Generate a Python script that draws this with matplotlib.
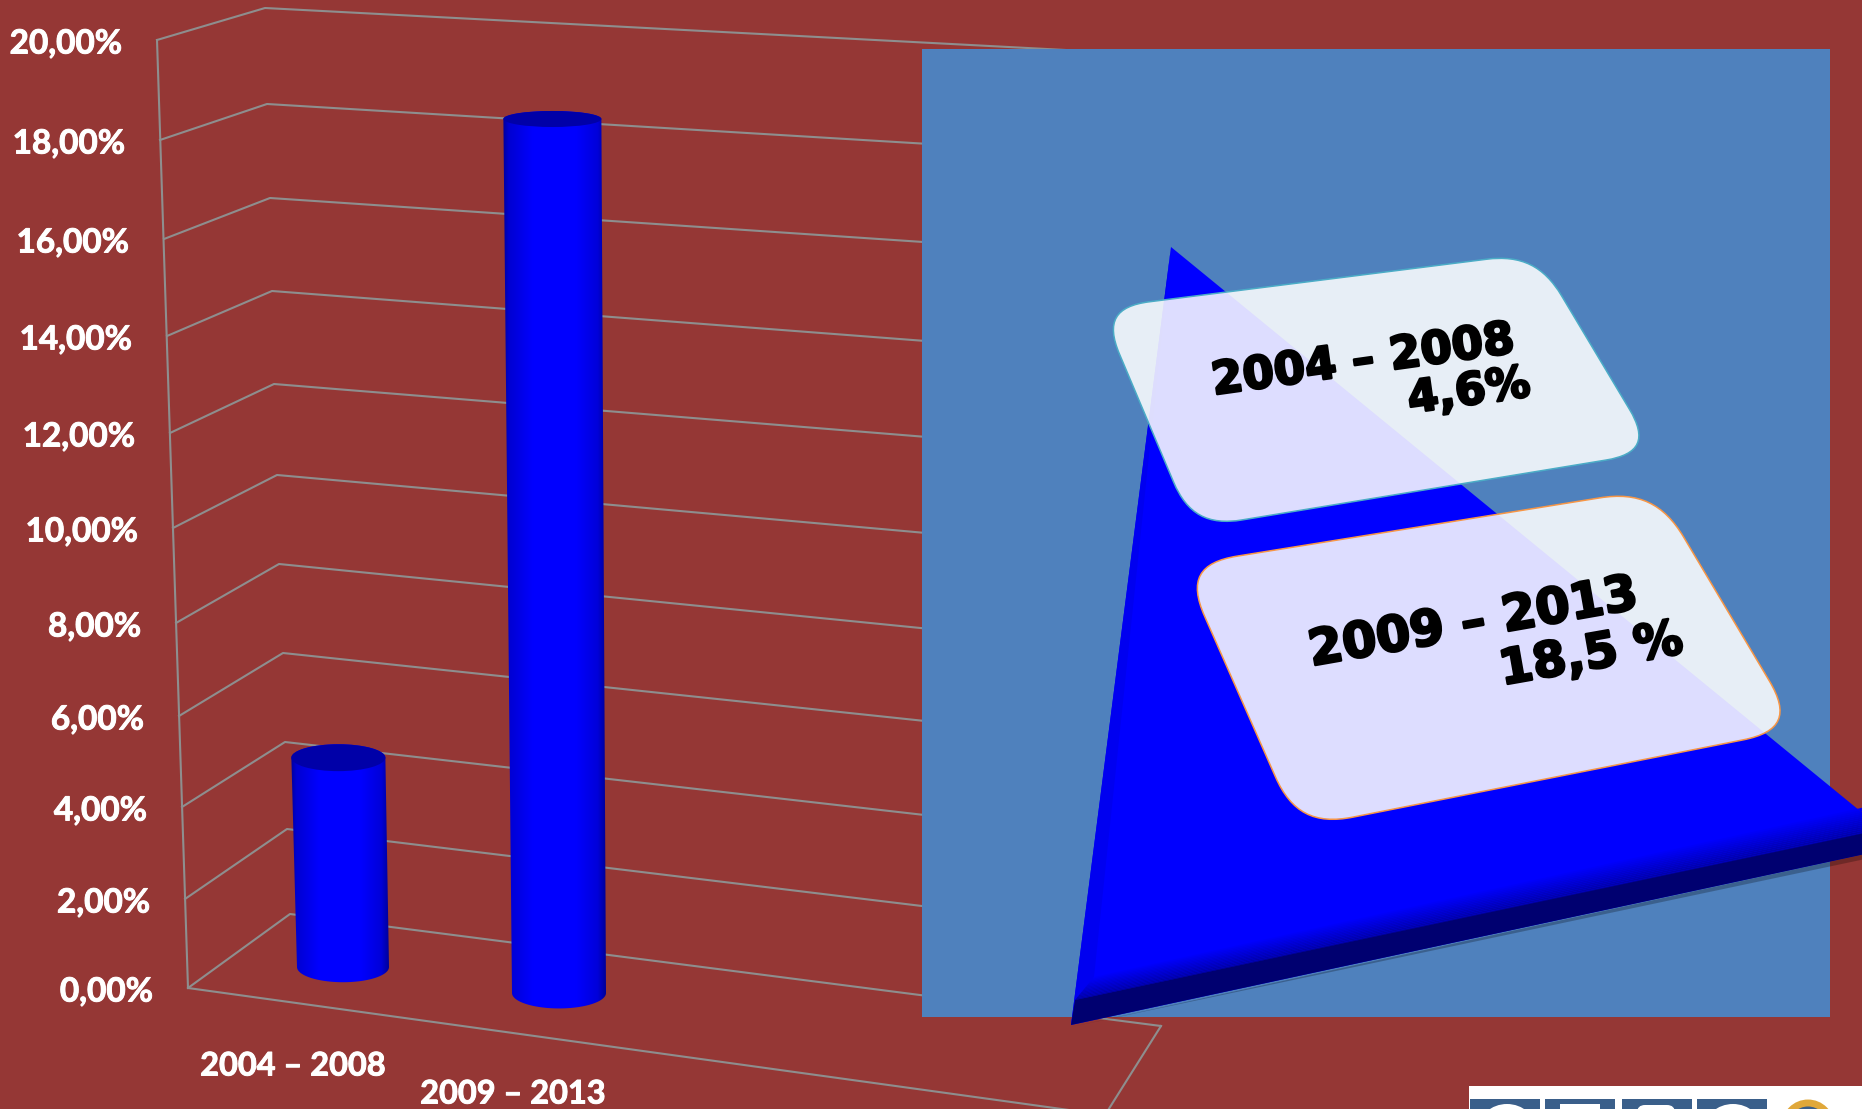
import numpy as np
import matplotlib
matplotlib.use('Agg')
import matplotlib.pyplot as plt
from matplotlib.colors import LinearSegmentedColormap
from matplotlib.patches import Circle, Ellipse, FancyBboxPatch, PathPatch, Polygon, Rectangle
from matplotlib.path import Path
import matplotlib.patheffects as pe

# datos
periodos = ['2004 – 2008', '2009 – 2013']
valores = [4.6, 18.5]
ticks = [0, 2, 4, 6, 8, 10, 12, 14, 16, 18, 20]
etiquetas = ['0,00%', '2,00%', '4,00%', '6,00%', '8,00%', '10,00%',
             '12,00%', '14,00%', '16,00%', '18,00%', '20,00%']
tarjetas = [('2004 – 2008', '4,6%'), ('2009 – 2013', '18,5 %')]

# escala del grafico 3D, en pixeles, de 0% a 20%
frente_x = [188, 185, 182, 179, 176, 173, 170, 167, 164, 160, 157]
frente_y = [988, 899, 807, 716, 623, 528, 433, 336, 239, 140, 40]
fondo_x = [290, 287, 285, 283, 279, 277, 274, 272, 270, 267, 265]
fondo_y = [914, 829, 742, 653, 564, 475, 384, 291, 198, 104, 8]
fin_y = [1026, 935, 842, 746, 652, 554, 456, 359, 258, 158, 55]
FIN_X = 1161

FONDO = '#953735'
GRIS = '#8E8E8E'
AZUL_CAJA = '#4F81BD'
AZUL_LOGO = '#3A5F8A'


def escala(v):
    return np.interp(v, ticks, frente_y)


def redondeado(p, r):
    # cuadrilatero con esquinas redondeadas
    p = [np.array(q, float) for q in p]
    verts, codes = [], []
    for i in range(4):
        a, b, c = p[i - 1], p[i], p[(i + 1) % 4]
        ini = b + (a - b) * r / np.linalg.norm(a - b)
        fin = b + (c - b) * r / np.linalg.norm(c - b)
        verts += [ini, ini + (b - ini) * .7, fin + (b - fin) * .7, fin]
        codes += [Path.LINETO if i else Path.MOVETO, Path.CURVE4, Path.CURVE4, Path.CURVE4]
    verts.append(verts[0])
    codes.append(Path.CLOSEPOLY)
    return Path(verts, codes)


fig = plt.figure(figsize=(18.62, 11.09), dpi=100, facecolor=FONDO)
ax = fig.add_axes([0, 0, 1, 1])
ax.set_facecolor(FONDO)

etiq = dict(color='white', fontweight='bold', family='Lato', zorder=6,
            path_effects=[pe.withStroke(linewidth=0.7, foreground='white')])

# paredes y rejilla
for i in range(len(ticks)):
    ax.plot([frente_x[i], fondo_x[i], FIN_X], [frente_y[i], fondo_y[i], fin_y[i]],
            color=GRIS, lw=1.5, zorder=1)
    ax.text(frente_x[i] - 35, frente_y[i] + 4, etiquetas[i], ha='right', va='center', fontsize=24, **etiq)
ax.plot([frente_x[0], frente_x[-1]], [frente_y[0], frente_y[-1]], color=GRIS, lw=1.5, zorder=1)
ax.plot([frente_x[0], 1105, FIN_X], [frente_y[0], 1115, fin_y[0]], color=GRIS, lw=1.5, zorder=1)

# cilindros
cmap_cil = LinearSegmentedColormap.from_list('cil', [(0, (0, 0, .5)), (.08, (0, 0, .82)), (.3, (0, 0, 1)),
                                                     (.7, (0, 0, 1)), (.9, (0, 0, .85)), (1, (0, 0, .5))])
gradiente = np.linspace(0, 1, 256).reshape(1, -1)
base = [(343, 967, 92, 94), (559, 993, 94, 98)]
for v, (cx, by, ancho, ancho_top) in zip(valores, base):
    ty = by + escala(v) - escala(0) - 1
    cx_top = cx - 4 - 0.3 * (by - ty) / 100
    ry_abajo = 7 + 0.0085 * by
    ry_top = 7 + 0.0085 * ty
    th = np.linspace(0, np.pi, 60)
    abajo = np.column_stack([cx + ancho / 2 * np.cos(th), by + ry_abajo * np.sin(th)])
    th2 = np.linspace(np.pi, 2 * np.pi, 60)
    arriba = np.column_stack([cx_top + ancho_top / 2 * np.cos(th2), ty + ry_top * np.sin(th2)])
    silueta = Polygon(np.vstack([abajo, arriba]), closed=True, transform=ax.transData,
                      facecolor='none', edgecolor='none')
    ax.add_patch(silueta)
    im = ax.imshow(gradiente, cmap=cmap_cil, aspect='auto', zorder=3,
                   extent=[cx_top - ancho_top / 2 - 3, cx + ancho / 2 + 3, by + ry_abajo + 2, ty - ry_top - 2])
    im.set_clip_path(silueta)
    ax.add_patch(Ellipse((cx_top, ty), ancho_top, ry_top * 2, facecolor='#0000A8', edgecolor='none', zorder=4))

# caja azul con el triangulo
ax.add_patch(Rectangle((922, 49), 908, 968, facecolor=AZUL_CAJA, edgecolor='none', zorder=5))
ax.add_patch(Polygon([(1071, 1027), (1870, 853), (1870, 858)], facecolor='black', alpha=.25, edgecolor='none', zorder=6))
ax.add_patch(Polygon([(1171, 247), (1071, 1025), (1920, 842), (1920, 860)], closed=True,
                     facecolor='#0000FF', edgecolor='none', zorder=7))
# bisel
ax.add_patch(Polygon([(1171, 247), (1071, 1025), (1094, 977)], facecolor='#0000F0', edgecolor='none', zorder=7))
n = 14
for j in range(n):
    t0, t1 = j / n, (j + 1) / n
    izq0, izq1 = 977 + 23 * t0, 977 + 23 * t1
    der0, der1 = 806 + 27 * t0, 806 + 27 * t1
    xi0, xi1 = 1094 - 19 * t0, 1094 - 19 * t1
    ax.add_patch(Polygon([(xi0, izq0), (1870, der0), (1870, der1), (xi1, izq1)],
                         facecolor=(0, 0, 1 - .35 * t1), edgecolor='none', zorder=7, lw=0))
ax.add_patch(Polygon([(1075, 1000), (1870, 832), (1870, 853), (1071, 1025)],
                     facecolor='#000070', edgecolor='none', zorder=7))

# tarjetas
esq1 = [(1100, 308), (1536, 253), (1655, 452), (1193, 528)]
esq2 = [(1182, 565), (1655, 489), (1798, 729), (1298, 828)]
for esq, borde, r in zip([esq1, esq2], ['#4BACC6', '#F79646'], [50, 56]):
    ax.add_patch(PathPatch(redondeado(esq, r), facecolor=(1, 1, 1, .87), edgecolor=borde, lw=1.1, zorder=8))

fuente = dict(color='black', ha='center', va='center', family='DejaVu Sans', fontweight='bold', zorder=9,
              rotation_mode='anchor', path_effects=[pe.withStroke(linewidth=1.8, foreground='black')])
ax.text(1363, 361, tarjetas[0][0], fontsize=32.5, rotation=8, **fuente)
ax.text(1469, 392, tarjetas[0][1], fontsize=32, rotation=8, **fuente)
ax.text(1473, 623, tarjetas[1][0], fontsize=35.5, rotation=10, **fuente)
ax.text(1591, 655, tarjetas[1][1], fontsize=35, rotation=10, **fuente)

# categorias
ax.text(293, 1066, periodos[0], ha='center', va='center', fontsize=23.4, **etiq)
ax.text(513, 1094, periodos[1], ha='center', va='center', fontsize=23.4, **etiq)

# logo cortado abajo a la derecha: solo se ve la parte de arriba de las letras
ax.add_patch(Rectangle((1469, 1086), 400, 40, facecolor='white', edgecolor='none', zorder=5))
for x0 in [1470, 1545, 1622, 1697]:
    ax.add_patch(Rectangle((x0, 1099), 70, 20, facecolor=AZUL_LOGO, edgecolor='none', zorder=6))
ax.add_patch(Ellipse((1507, 1130), 58, 52, facecolor='white', edgecolor='none', zorder=7))
ax.add_patch(Rectangle((1560, 1104), 40, 10, facecolor='white', edgecolor='none', zorder=7))
ax.add_patch(FancyBboxPatch((1642, 1110), 28, 20, boxstyle='round,pad=5,rounding_size=8',
                            facecolor='white', edgecolor='none', zorder=7))
ax.add_patch(Ellipse((1733, 1130), 58, 52, facecolor='white', edgecolor='none', zorder=7))
ax.add_patch(Circle((1808, 1126), 23, facecolor=AZUL_LOGO, edgecolor='#E0A83A', lw=5, zorder=6))

ax.set_xlim(0, 1862)
ax.set_ylim(1109, 0)
ax.axis('off')
fig.savefig('out.png', dpi=100, facecolor=FONDO)
